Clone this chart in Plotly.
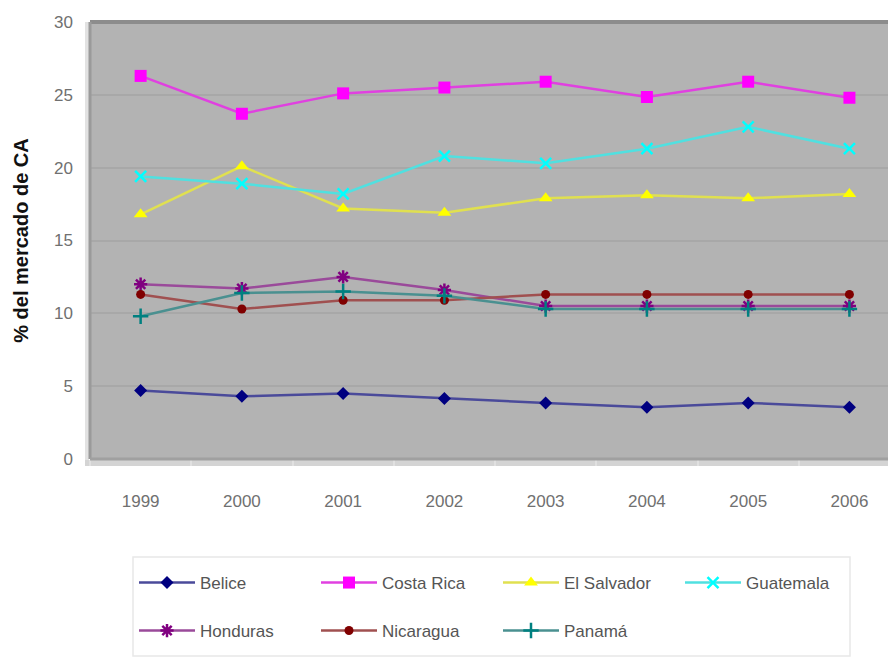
import plotly.graph_objects as go

years = ["1999", "2000", "2001", "2002", "2003", "2004", "2005", "2006"]

belice = [4.7, 4.3, 4.5, 4.15, 3.85, 3.55, 3.85, 3.55]
costa_rica = [26.3, 23.7, 25.1, 25.5, 25.9, 24.85, 25.9, 24.8]
el_salvador = [16.8, 20.1, 17.2, 16.9, 17.9, 18.1, 17.9, 18.2]
guatemala = [19.4, 18.9, 18.2, 20.8, 20.3, 21.3, 22.8, 21.3]
honduras = [12.0, 11.7, 12.5, 11.6, 10.5, 10.5, 10.5, 10.5]
nicaragua = [11.3, 10.3, 10.9, 10.9, 11.3, 11.3, 11.3, 11.3]
panama = [9.8, 11.4, 11.5, 11.2, 10.3, 10.3, 10.3, 10.3]

y_ticks = [0, 5, 10, 15, 20, 25, 30]

series = [
    ("Belice", belice, "#000080", "#4a4a9a", "diamond", 10, "legend"),
    ("Costa Rica", costa_rica, "#ff00ff", "#e040e0", "square", 12, "legend"),
    ("El Salvador", el_salvador, "#ffff00", "#e0e050", "triangle-up", 12, "legend"),
    ("Guatemala", guatemala, "#00ffff", "#50e0e0", "x-thin-open", 11, "legend"),
    ("Honduras", honduras, "#800080", "#9a4a9a", "asterisk-open", 11, "legend2"),
    ("Nicaragua", nicaragua, "#800000", "#a05050", "circle", 9, "legend2"),
    ("Panamá", panama, "#008080", "#4a9090", "cross-thin-open", 11, "legend2"),
]

OFF = 8  # page body margin
W, H = 896 - OFF, 658 - OFF
L, R, T, B = 90 - OFF, 0, 22 - OFF, 658 - 459
PW = W - L - R
PH = H - T - B


def px(x):
    return (x - OFF - L) / PW


def py(y):
    return (H - B - (y - OFF)) / PH


fig = go.Figure()
for name, vals, mcol, lcol, sym, size, leg in series:
    open_sym = sym.endswith("open")
    fig.add_trace(go.Scatter(
        x=years, y=vals, name=name, mode="lines+markers",
        line=dict(color=lcol, width=2.5),
        marker=dict(symbol=sym, size=size, color=mcol,
                    line=dict(color=mcol, width=2.5 if open_sym else 0)),
        legend=leg,
    ))

tickfont = dict(family="Liberation Sans Narrow, Liberation Sans, Arial", size=17, color="#707070")
legfont = dict(family="Liberation Sans Narrow, Liberation Sans, Arial", size=17, color="#555555")

fig.update_layout(
    width=W, height=H,
    margin=dict(l=L, r=R, t=T, b=B, autoexpand=False),
    paper_bgcolor="white",
    plot_bgcolor="#b3b3b3",
    xaxis=dict(
        type="category", range=[-0.5, 7.46], showgrid=False,
        ticks="outside", tickson="boundaries", ticklen=6, tickcolor="#e0e0e0", tickwidth=2,
        tickfont=tickfont, ticklabelstandoff=30,
        showline=False, zeroline=False, automargin=False,
    ),
    yaxis=dict(
        range=[0, 30], tickvals=y_ticks, showgrid=True, gridcolor="#a8a8a8", gridwidth=2,
        tickfont=tickfont, ticks="", ticklabelstandoff=16,
        zeroline=False, showline=False, automargin=False,
        title=dict(text="<b>% del mercado de CA</b>",
                   font=dict(family="Liberation Sans, Arial", size=20, color="#111111"),
                   standoff=20),
    ),
    legend=dict(
        orientation="h", x=px(134), y=py(583), xanchor="left", yanchor="middle",
        entrywidth=111, entrywidthmode="pixels", itemwidth=56,
        bgcolor="rgba(0,0,0,0)", font=legfont, tracegroupgap=0,
    ),
    legend2=dict(
        orientation="h", x=px(134), y=py(631), xanchor="left", yanchor="middle",
        entrywidth=111, entrywidthmode="pixels", itemwidth=56,
        bgcolor="rgba(0,0,0,0)", font=legfont, tracegroupgap=0,
    ),
    showlegend=True,
)

shapes = [
    # light outer bands
    dict(type="rect", xref="paper", yref="paper", x0=px(85), x1=px(89), y0=py(466), y1=1,
         fillcolor="#e2e2e2", line=dict(width=0), layer="below"),
    dict(type="rect", xref="paper", yref="paper", x0=px(85), x1=1, y0=py(466), y1=py(460),
         fillcolor="#d4d4d4", line=dict(width=0), layer="below"),
    # borders
    dict(type="line", xref="paper", yref="paper", x0=0, x1=1, y0=1, y1=1,
         line=dict(color="#8c8c8c", width=4)),
    dict(type="line", xref="paper", yref="paper", x0=0, x1=0, y0=0, y1=1,
         line=dict(color="#9a9a9a", width=3)),
    dict(type="line", xref="paper", yref="paper", x0=0, x1=1, y0=0, y1=0,
         line=dict(color="#a0a0a0", width=3)),
    # legend box
    dict(type="rect", xref="paper", yref="paper", x0=px(133), x1=px(850), y0=py(656), y1=py(557),
         line=dict(color="#e8e8e8", width=1.5), fillcolor="rgba(0,0,0,0)"),
]
fig.update_layout(shapes=shapes)

fig.write_html("out.html")
